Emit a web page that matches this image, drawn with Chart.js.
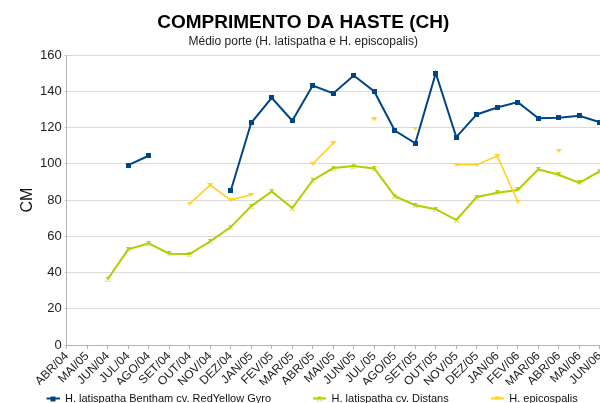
<!DOCTYPE html>
<html>
<head>
<meta charset="utf-8">
<script src="https://cdn.jsdelivr.net/npm/chart.js@4/dist/chart.umd.min.js"></script>
<style>
  html, body { margin: 0; padding: 0; overflow: hidden; background: #fff; }
  #wrap { width: 610px; height: 403px; }
</style>
</head>
<body>
<div id="wrap"><canvas id="chart"></canvas></div>
<script>
const meses = ['ABR/04', 'MAI/05', 'JUN/04', 'JUL/04', 'AGO/04', 'SET/04', 'OUT/04', 'NOV/04', 'DEZ/04',
  'JAN/05', 'FEV/05', 'MAR/05', 'ABR/05', 'MAI/05', 'JUN/05', 'JUL/05', 'AGO/05', 'SET/05', 'OUT/05',
  'NOV/05', 'DEZ/05', 'JAN/06', 'FEV/06', 'MAR/06', 'ABR/06', 'MAI/06', 'JUN/06']

const redYellow = [null, null, null, 99.3, 104.5, null, null, null, 85.2,
  122.7, 136.5, 123.8, 143.3, 138.9, 148.8, 140.0, 118.4, 111.4, 150.1,
  114.8, 127.3, 131.1, 134.1, 125.2, 125.4, 126.5, 123]
const distans = [null, null, 36.4, 52.8, 56.1, 50.4, 50.2, 57.2, 65.1,
  76.7, 84.8, 75.6, 91.0, 97.7, 98.8, 97.5, 82.2, 77.2, 75.0,
  69.0, 81.7, 84.0, 85.6, 97.0, 94.0, 89.5, 96]
const episcopalis = [null, null, null, null, null, null, 78.1, 88.3, 80.0,
  82.9, null, null, 100.0, 111.4, null, 124.5, null, 119.5, null,
  99.5, 99.5, 104.3, 79.1, null, 107.2, null, null]

const nomes = ['H. latispatha Bentham cv. RedYellow Gyro', 'H. latispatha cv. Distans', 'H. epicospalis']
const cores = ['#004586', '#aecf00', '#ffd320']
const yTicks = [0, 20, 40, 60, 80, 100, 120, 140, 160]

// small canvases used as point markers
function marcador (forma, cor, w, h) {
  const c = document.createElement('canvas')
  c.width = w
  c.height = h
  const g = c.getContext('2d')
  g.fillStyle = cor
  g.beginPath()
  if (forma === 'quadrado') {
    g.rect(0, 0, w, h)
  } else if (forma === 'ampulheta') {
    g.moveTo(0, 0); g.lineTo(w, 0); g.lineTo(w / 2, h / 2); g.closePath()
    g.moveTo(0, h); g.lineTo(w, h); g.lineTo(w / 2, h / 2); g.closePath()
    g.rect(w / 2 - 1, 0, 2, h)
  } else {
    g.moveTo(0, 0); g.lineTo(w, 0); g.lineTo(w / 2, h); g.closePath()
  }
  g.fill()
  return c
}

// legend icon: blank space on the left keeps the items apart like the original
function iconeLegenda (mk, cor) {
  const c = document.createElement('canvas')
  c.width = 47
  c.height = 8
  const g = c.getContext('2d')
  g.strokeStyle = cor
  g.lineWidth = 2
  g.beginPath()
  g.moveTo(34, 4); g.lineTo(47, 4)
  g.stroke()
  g.drawImage(mk, 40.5 - mk.width / 2, 4 - mk.height / 2)
  return c
}

const marcadores = [
  marcador('quadrado', cores[0], 5, 5),
  marcador('ampulheta', cores[1], 5, 5),
  marcador('triangulo', cores[2], 6, 4)
]

const series = [redYellow, distans, episcopalis]

// eslint-disable-next-line no-new
new Chart(document.getElementById('chart'), {
  type: 'line',
  data: {
    labels: meses,
    datasets: series.map((valores, i) => ({
      label: nomes[i],
      data: valores,
      borderColor: cores[i],
      backgroundColor: cores[i],
      borderWidth: i === 2 ? 1.6 : 2,
      pointStyle: marcadores[i],
      pointRadius: 3,
      pointHoverRadius: 3,
      spanGaps: false,
      tension: 0,
      order: i === 2 ? -1 : i
    }))
  },
  options: {
    responsive: true,
    maintainAspectRatio: false,
    animation: false,
    layout: { padding: { left: 4.5, right: 8, top: 11, bottom: -11 } },
    plugins: {
      title: {
        display: true,
        text: 'COMPRIMENTO DA HASTE (CH)',
        color: '#000',
        font: { family: 'Liberation Sans', size: 19, weight: 'bold' },
        padding: { top: 0, bottom: 1 }
      },
      subtitle: {
        display: true,
        text: 'Médio porte (H. latispatha e H. episcopalis)',
        color: '#222',
        font: { family: 'Liberation Sans', size: 12 },
        padding: { top: 0, bottom: 6 }
      },
      legend: {
        position: 'bottom',
        align: 'start',
        labels: {
          color: '#111',
          font: { family: 'Liberation Sans', size: 11 },
          usePointStyle: true,
          pointStyleWidth: 47,
          padding: 8,
          generateLabels: chart => chart.data.datasets.map((ds, i) => ({
            text: ds.label,
            fontColor: '#111',
            pointStyle: iconeLegenda(marcadores[i], cores[i]),
            strokeStyle: cores[i],
            fillStyle: cores[i],
            lineWidth: 0,
            datasetIndex: i
          }))
        }
      },
      tooltip: { enabled: false }
    },
    scales: {
      x: {
        offset: false,
        afterFit: scale => { scale.height = 40 },
        grid: { drawOnChartArea: false, drawTicks: true, tickLength: 4, color: '#b3b3b3' },
        border: { color: '#b3b3b3' },
        ticks: {
          autoSkip: false,
          maxRotation: 45,
          minRotation: 45,
          padding: 0,
          color: '#222',
          font: { family: 'Liberation Sans', size: 12 }
        }
      },
      y: {
        min: 0,
        max: 160,
        afterBuildTicks: scale => { scale.ticks = yTicks.map(v => ({ value: v })) },
        afterFit: scale => { scale.width = 62.2 },
        grid: { color: '#dadada', tickLength: 3 },
        border: { color: '#b3b3b3' },
        title: {
          display: true,
          text: 'CM',
          color: '#111',
          font: { family: 'Liberation Sans', size: 16 },
          padding: { top: 13, bottom: 0 }
        },
        ticks: {
          padding: 2,
          color: '#222',
          font: { family: 'Liberation Sans', size: 13 }
        }
      }
    }
  }
})
</script>
</body>
</html>
